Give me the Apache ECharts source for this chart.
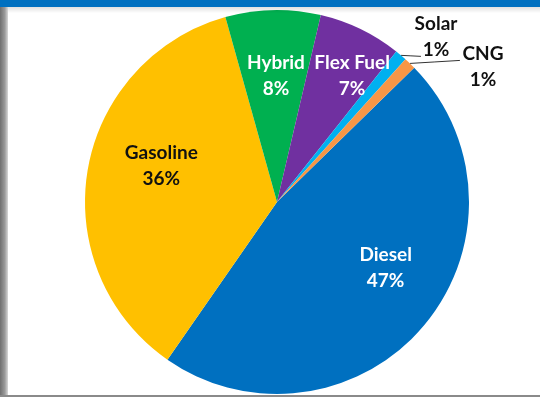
<!DOCTYPE html>
<html>
<head>
<meta charset="utf-8">
<script src="https://cdn.jsdelivr.net/npm/echarts@6/dist/echarts.min.js"></script>
<style>
  html, body { margin: 0; padding: 0; background: #fff; }
  #wrap { position: relative; width: 540px; height: 397px; overflow: hidden; background: #fff; }
  #chart { position: absolute; left: 0; top: 0; width: 540px; height: 397px; }
  .bar-top { position: absolute; left: 0; top: 0; width: 540px; height: 7px; background: #0070C0; z-index: 3; }
  .shadow-top { position: absolute; left: 0; top: 7px; width: 540px; height: 6px;
    background: linear-gradient(to bottom, rgba(0,0,0,0.12), rgba(0,0,0,0)); z-index: 2; pointer-events: none; }
  .edge-left { position: absolute; left: 0; top: 7px; width: 8px; height: 390px;
    background: linear-gradient(to right, #6f6f6f, #9a9a9a 60%, #d8d8d8); z-index: 2; }
  .edge-bottom { position: absolute; left: 0; top: 395px; width: 540px; height: 2px; background: #8a8a8a; z-index: 2; }
</style>
</head>
<body>
<div id="wrap">
  <div id="chart"></div>
  <div class="bar-top"></div>
  <div class="shadow-top"></div>
  <div class="edge-left"></div>
  <div class="edge-bottom"></div>
</div>
<script>
// Vehicle fuel type shares (percent)
const fuelTypes = ['Diesel', 'Gasoline', 'Hybrid', 'Flex Fuel', 'Solar', 'CNG'];
const shares = [47, 36, 8, 7, 1, 1];
const sliceColors = ['#0070C0', '#FFC000', '#00B050', '#7030A0', '#00B0F0', '#F79646'];
const labelColors = ['#ffffff', '#111111', '#ffffff', '#ffffff', '#111111', '#111111'];

// nudges applied to each inside label after default placement
const labelNudge = {
  'Diesel':    { dx: 33, dy: 2 },
  'Gasoline':  { dx: -18, dy: -20 },
  'Hybrid':    { dx: 1, dy: -27 },
  'Flex Fuel': { dx: 32, dy: -37 }
};

// callout placement for the two thin slices: label centre and leader end offset
const callouts = {
  'Solar': { x: 436, y: 37, lineEnd: [20, 1] },
  'CNG':   { x: 483, y: 67, lineEnd: [50, -3] }
};

const chart = echarts.init(document.getElementById('chart'), null, { renderer: 'canvas' });

const data = fuelTypes.map((name, i) => {
  const outside = !!callouts[name];
  return {
    name: name,
    value: shares[i],
    itemStyle: { color: sliceColors[i] },
    label: {
      position: outside ? 'outside' : 'inside',
      color: labelColors[i]
    },
    labelLine: { show: outside }
  };
});

chart.setOption({
  animation: false,
  series: [{
    type: 'pie',
    center: [277, 202],
    radius: [0, 192],
    startAngle: 44.4,
    clockwise: true,
    avoidLabelOverlap: false,
    itemStyle: { borderWidth: 0 },
    label: {
      show: true,
      formatter: p => p.name + '\n' + p.value + '%',
      fontFamily: 'Lato, "Open Sans", sans-serif',
      fontWeight: 'bold',
      fontSize: 19,
      lineHeight: 26,
      align: 'center'
    },
    labelLine: {
      length: 4,
      length2: 14,
      lineStyle: { color: '#333', width: 1 }
    },
    labelLayout: function (params) {
      const name = fuelTypes[params.dataIndex];
      const c = callouts[name];
      if (c) {
        const out = { x: c.x, y: c.y, align: 'center', verticalAlign: 'middle' };
        const pts = params.labelLinePoints;
        if (pts && pts.length) {
          const s = pts[0];
          const e = [s[0] + c.lineEnd[0], s[1] + c.lineEnd[1]];
          out.labelLinePoints = [s, [(s[0] + e[0]) / 2, (s[1] + e[1]) / 2], e];
        }
        return out;
      }
      return labelNudge[name] || {};
    },
    data: data
  }]
});
</script>
</body>
</html>
